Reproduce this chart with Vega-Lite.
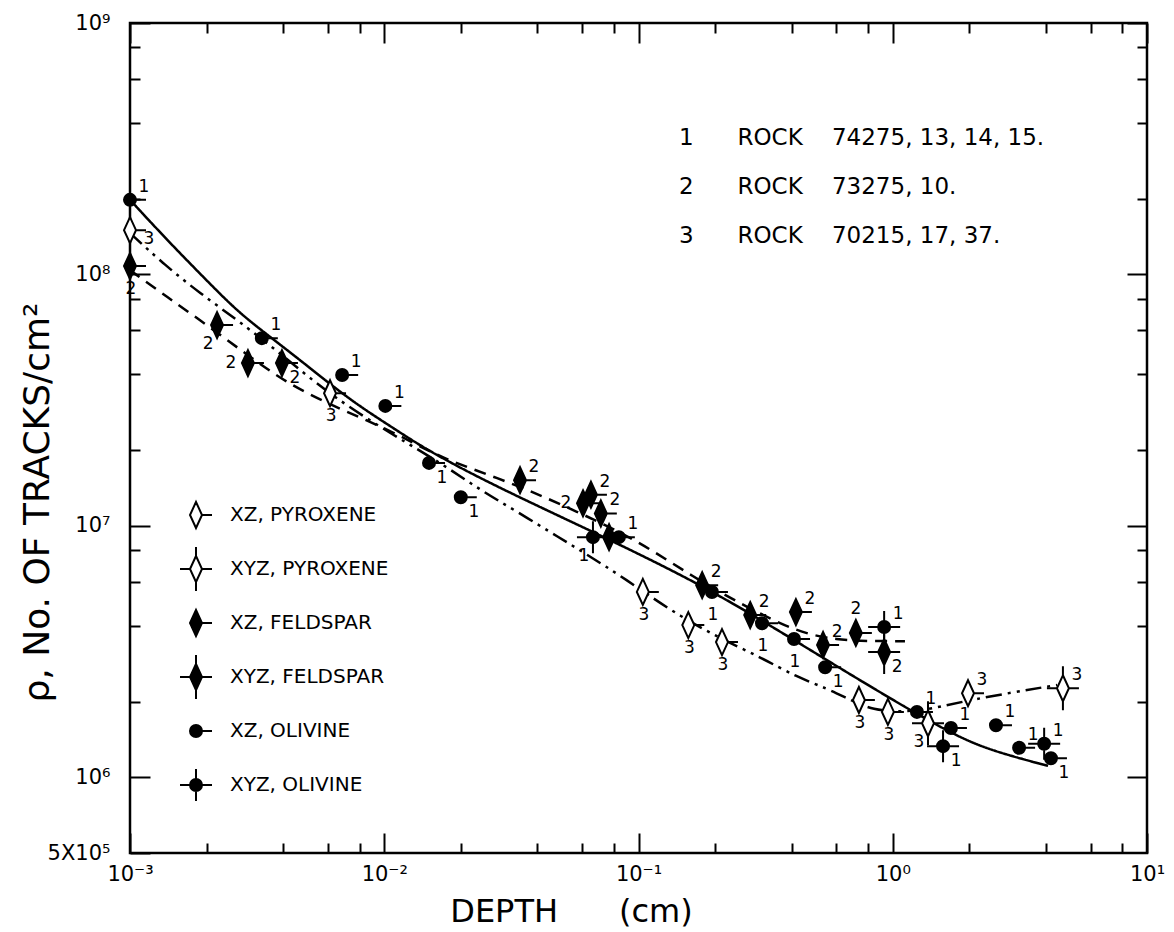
{
  "$schema": "https://vega.github.io/schema/vega-lite/v6.json",
  "width": 1017,
  "height": 830,
  "autosize": {"type": "none"},
  "padding": {"left": 130, "top": 23, "right": 27, "bottom": 79},
  "background": "white",
  "config": {
    "view": {"stroke": "black", "strokeWidth": 2.5},
    "font": "DejaVu Sans",
    "axis": {"grid": false, "domain": false, "tickColor": "black", "tickWidth": 2, "labelColor": "black", "titleColor": "black", "labelFont": "DejaVu Sans", "titleFont": "DejaVu Sans", "titleFontWeight": "normal", "labelFlush": false, "labelOverlap": false}
  },
  "datasets": {
    "curves": [
      {"rock": "1", "depth": 0.001, "density": 198000000},
      {"rock": "1", "depth": 0.0014, "density": 137000000},
      {"rock": "1", "depth": 0.00188, "density": 101000000},
      {"rock": "1", "depth": 0.00254, "density": 74200000},
      {"rock": "1", "depth": 0.00316, "density": 61800000},
      {"rock": "1", "depth": 0.00467, "density": 45700000},
      {"rock": "1", "depth": 0.00733, "density": 31600000},
      {"rock": "1", "depth": 0.0112, "density": 24000000},
      {"rock": "1", "depth": 0.0151, "density": 19700000},
      {"rock": "1", "depth": 0.0277, "density": 14300000},
      {"rock": "1", "depth": 0.0605, "density": 9890000},
      {"rock": "1", "depth": 0.164, "density": 6090000},
      {"rock": "1", "depth": 0.338, "density": 3960000},
      {"rock": "1", "depth": 0.637, "density": 2670000},
      {"rock": "1", "depth": 1.138, "density": 1880000},
      {"rock": "1", "depth": 1.757, "density": 1470000},
      {"rock": "1", "depth": 2.415, "density": 1280000},
      {"rock": "1", "depth": 4.08, "density": 1110000},
      {"rock": "2", "depth": 0.001, "density": 104000000},
      {"rock": "2", "depth": 0.0014, "density": 81300000},
      {"rock": "2", "depth": 0.00206, "density": 61800000},
      {"rock": "2", "depth": 0.00297, "density": 46900000},
      {"rock": "2", "depth": 0.00414, "density": 37000000},
      {"rock": "2", "depth": 0.00612, "density": 30300000},
      {"rock": "2", "depth": 0.0112, "density": 23400000},
      {"rock": "2", "depth": 0.01656, "density": 18600000},
      {"rock": "2", "depth": 0.0321, "density": 14800000},
      {"rock": "2", "depth": 0.0573, "density": 11400000},
      {"rock": "2", "depth": 0.0986, "density": 8790000},
      {"rock": "2", "depth": 0.164, "density": 6250000},
      {"rock": "2", "depth": 0.267, "density": 4750000},
      {"rock": "2", "depth": 0.42, "density": 3780000},
      {"rock": "2", "depth": 0.604, "density": 3510000},
      {"rock": "2", "depth": 0.836, "density": 3480000},
      {"rock": "2", "depth": 1.117, "density": 3480000},
      {"rock": "3", "depth": 0.001, "density": 146000000},
      {"rock": "3", "depth": 0.00137, "density": 109000000},
      {"rock": "3", "depth": 0.00188, "density": 84300000},
      {"rock": "3", "depth": 0.00271, "density": 64700000},
      {"rock": "3", "depth": 0.00407, "density": 46900000},
      {"rock": "3", "depth": 0.00612, "density": 33100000},
      {"rock": "3", "depth": 0.0112, "density": 22500000},
      {"rock": "3", "depth": 0.01656, "density": 17900000},
      {"rock": "3", "depth": 0.0238, "density": 13900000},
      {"rock": "3", "depth": 0.0333, "density": 11400000},
      {"rock": "3", "depth": 0.0491, "density": 8940000},
      {"rock": "3", "depth": 0.0605, "density": 7870000},
      {"rock": "3", "depth": 0.0902, "density": 6090000},
      {"rock": "3", "depth": 0.133, "density": 4620000},
      {"rock": "3", "depth": 0.204, "density": 3610000},
      {"rock": "3", "depth": 0.301, "density": 3010000},
      {"rock": "3", "depth": 0.42, "density": 2500000},
      {"rock": "3", "depth": 0.551, "density": 2260000},
      {"rock": "3", "depth": 0.679, "density": 2030000},
      {"rock": "3", "depth": 0.836, "density": 1850000},
      {"rock": "3", "depth": 1.097, "density": 1820000},
      {"rock": "3", "depth": 1.426, "density": 1870000},
      {"rock": "3", "depth": 1.977, "density": 2030000},
      {"rock": "3", "depth": 4.43, "density": 2330000}
    ],
    "pts": [
      {"depth": 0.001, "density": 198000000, "rock": "1", "series": "XZ, OLIVINE", "label_at": "ne"},
      {"depth": 0.0033, "density": 55800000, "rock": "1", "series": "XZ, OLIVINE", "label_at": "ne"},
      {"depth": 0.00683, "density": 39800000, "rock": "1", "series": "XZ, OLIVINE", "label_at": "ne"},
      {"depth": 0.0101, "density": 30000000, "rock": "1", "series": "XZ, OLIVINE", "label_at": "ne"},
      {"depth": 0.015, "density": 17800000, "rock": "1", "series": "XZ, OLIVINE", "label_at": "se"},
      {"depth": 0.02, "density": 13000000, "rock": "1", "series": "XZ, OLIVINE", "label_at": "se"},
      {"depth": 0.0662, "density": 9020000, "rock": "1", "series": "XYZ, OLIVINE", "label_at": "sw"},
      {"depth": 0.0837, "density": 9020000, "rock": "1", "series": "XZ, OLIVINE", "label_at": "ne"},
      {"depth": 0.1945, "density": 5460000, "rock": "1", "series": "XZ, OLIVINE", "label_at": "s"},
      {"depth": 0.306, "density": 4100000, "rock": "1", "series": "XZ, OLIVINE", "label_at": "s"},
      {"depth": 0.409, "density": 3550000, "rock": "1", "series": "XZ, OLIVINE", "label_at": "s"},
      {"depth": 0.542, "density": 2740000, "rock": "1", "series": "XZ, OLIVINE", "label_at": "se"},
      {"depth": 0.925, "density": 3960000, "rock": "1", "series": "XYZ, OLIVINE", "label_at": "ne"},
      {"depth": 1.245, "density": 1820000, "rock": "1", "series": "XZ, OLIVINE", "label_at": "ne"},
      {"depth": 1.577, "density": 1330000, "rock": "1", "series": "XYZ, OLIVINE", "label_at": "se"},
      {"depth": 1.694, "density": 1570000, "rock": "1", "series": "XZ, OLIVINE", "label_at": "ne"},
      {"depth": 2.547, "density": 1610000, "rock": "1", "series": "XZ, OLIVINE", "label_at": "ne"},
      {"depth": 3.14, "density": 1310000, "rock": "1", "series": "XZ, OLIVINE", "label_at": "ne"},
      {"depth": 3.94, "density": 1360000, "rock": "1", "series": "XYZ, OLIVINE", "label_at": "ne"},
      {"depth": 4.19, "density": 1190000, "rock": "1", "series": "XZ, OLIVINE", "label_at": "se"},
      {"depth": 0.001, "density": 108000000, "rock": "2", "series": "XZ, FELDSPAR", "label_at": "s"},
      {"depth": 0.0022, "density": 62900000, "rock": "2", "series": "XZ, FELDSPAR", "label_at": "sw"},
      {"depth": 0.00291, "density": 44400000, "rock": "2", "series": "XZ, FELDSPAR", "label_at": "w"},
      {"depth": 0.00396, "density": 44400000, "rock": "2", "series": "XZ, FELDSPAR", "label_at": "se"},
      {"depth": 0.0342, "density": 15200000, "rock": "2", "series": "XZ, FELDSPAR", "label_at": "ne"},
      {"depth": 0.0605, "density": 12300000, "rock": "2", "series": "XZ, FELDSPAR", "label_at": "w"},
      {"depth": 0.065, "density": 13300000, "rock": "2", "series": "XZ, FELDSPAR", "label_at": "ne"},
      {"depth": 0.0711, "density": 11200000, "rock": "2", "series": "XZ, FELDSPAR", "label_at": "ne"},
      {"depth": 0.0766, "density": 9020000, "rock": "2", "series": "XZ, FELDSPAR", "label_at": "none"},
      {"depth": 0.178, "density": 5810000, "rock": "2", "series": "XZ, FELDSPAR", "label_at": "ne"},
      {"depth": 0.275, "density": 4420000, "rock": "2", "series": "XZ, FELDSPAR", "label_at": "ne"},
      {"depth": 0.416, "density": 4540000, "rock": "2", "series": "XZ, FELDSPAR", "label_at": "ne"},
      {"depth": 0.532, "density": 3360000, "rock": "2", "series": "XZ, FELDSPAR", "label_at": "ne"},
      {"depth": 0.716, "density": 3750000, "rock": "2", "series": "XZ, FELDSPAR", "label_at": "n"},
      {"depth": 0.925, "density": 3150000, "rock": "2", "series": "XYZ, FELDSPAR", "label_at": "se"},
      {"depth": 0.001, "density": 150000000, "rock": "3", "series": "XZ, PYROXENE", "label_at": "e"},
      {"depth": 0.00612, "density": 33700000, "rock": "3", "series": "XZ, PYROXENE", "label_at": "s"},
      {"depth": 0.104, "density": 5460000, "rock": "3", "series": "XZ, PYROXENE", "label_at": "s"},
      {"depth": 0.157, "density": 4030000, "rock": "3", "series": "XZ, PYROXENE", "label_at": "s"},
      {"depth": 0.213, "density": 3450000, "rock": "3", "series": "XZ, PYROXENE", "label_at": "s"},
      {"depth": 0.736, "density": 2030000, "rock": "3", "series": "XZ, PYROXENE", "label_at": "s"},
      {"depth": 0.957, "density": 1820000, "rock": "3", "series": "XZ, PYROXENE", "label_at": "s"},
      {"depth": 1.376, "density": 1640000, "rock": "3", "series": "XYZ, PYROXENE", "label_at": "sw"},
      {"depth": 1.977, "density": 2160000, "rock": "3", "series": "XZ, PYROXENE", "label_at": "ne"},
      {"depth": 4.67, "density": 2260000, "rock": "3", "series": "XYZ, PYROXENE", "label_at": "ne"}
    ]
  },
  "resolve": {"axis": {"x": "independent", "y": "independent"}},
  "layer": [
    {
      "data": {"name": "curves"},
      "mark": {"type": "line", "interpolate": "basis", "color": "black", "strokeWidth": 2.5},
      "encoding": {
        "x": {"field": "depth", "type": "quantitative", "scale": {"type": "log", "domain": [0.001, 10], "nice": false},
          "axis": {"orient": "bottom", "values": [0.001, 0.01, 0.1, 1, 10], "tickSize": -20, "labelFontSize": 21, "labelPadding": 30, "labelBaseline": "top",
            "labelExpr": "'10' + (datum.value < 1 ? '⁻' : '') + ['⁰','¹','²','³','⁴','⁵','⁶','⁷','⁸','⁹'][round(abs(log(datum.value) / LN10))]",
            "title": "DEPTH\u00a0\u00a0\u00a0\u00a0\u00a0\u00a0(cm)", "titleFontSize": 32, "titleX": 441, "titleY": 58, "titleAlign": "center", "titleBaseline": "middle"}},
        "y": {"field": "density", "type": "quantitative", "scale": {"type": "log", "domain": [500000, 1000000000], "nice": false},
          "axis": {"orient": "left", "values": [500000, 1000000, 10000000, 100000000, 1000000000], "tickSize": -20, "labelFontSize": 21, "labelPadding": 40, "labelBaseline": "middle",
            "labelExpr": "datum.value < 900000 ? '5X10⁵' : '10' + ['⁰','¹','²','³','⁴','⁵','⁶','⁷','⁸','⁹'][round(log(datum.value) / LN10)]",
            "title": "ρ, No. OF TRACKS/cm²", "titleFontSize": 36, "titleX": -93, "titleY": 479, "titleAngle": -90, "titleAlign": "center", "titleBaseline": "middle"}},
        "strokeDash": {"field": "rock", "type": "nominal",
          "scale": {"domain": ["1", "2", "3"], "range": [[1, 0], [12, 8], [16, 6, 3, 6, 3, 6]]},
          "legend": {"orient": "none", "legendX": 526, "legendY": 103, "title": null, "padding": 0, "symbolOpacity": 0, "symbolSize": 0, "symbolStrokeWidth": 0, "labelOffset": 0, "labelFontSize": 23, "labelFont": "DejaVu Sans", "labelColor": "black", "rowPadding": 25, "labelLimit": 700,
            "labelExpr": "datum.label == '1' ? '1\u00a0\u00a0\u00a0\u00a0\u00a0\u00a0ROCK\u00a0\u00a0\u00a0\u00a074275, 13, 14, 15.' : datum.label == '2' ? '2\u00a0\u00a0\u00a0\u00a0\u00a0\u00a0ROCK\u00a0\u00a0\u00a0\u00a073275, 10.' : '3\u00a0\u00a0\u00a0\u00a0\u00a0\u00a0ROCK\u00a0\u00a0\u00a0\u00a070215, 17, 37.'"}}
      }
    },
    {
      "data": {"name": "pts"},
      "mark": {"type": "point", "filled": true, "stroke": "black", "strokeWidth": 2, "size": 1600, "opacity": 1},
      "encoding": {
        "x": {"field": "depth", "type": "quantitative", "axis": {"orient": "bottom", "values": [0.002, 0.004, 0.006, 0.008, 0.02, 0.04, 0.06, 0.08, 0.2, 0.4, 0.6, 0.8, 2, 4, 6, 8], "tickSize": -10, "labels": false, "title": null}},
        "y": {"field": "density", "type": "quantitative", "axis": {"orient": "left", "values": [2000000, 4000000, 6000000, 8000000, 20000000, 40000000, 60000000, 80000000, 200000000, 400000000, 600000000, 800000000], "tickSize": -10, "labels": false, "title": null}},
        "shape": {"field": "series", "type": "nominal",
          "scale": {"domain": ["XZ, PYROXENE", "XYZ, PYROXENE", "XZ, FELDSPAR", "XYZ, FELDSPAR", "XZ, OLIVINE", "XYZ, OLIVINE"],
            "range": [
              "M0,-0.65L0.3,0L0,0.65L-0.3,0ZM0.3,0H0.8",
              "M0,-0.65L0.3,0L0,0.65L-0.3,0ZM0.3,0H0.8M-0.3,0H-0.8M0,-0.65V-1.1M0,0.65V1.1",
              "M0,-0.65L0.3,0L0,0.65L-0.3,0ZM0.3,0H0.8",
              "M0,-0.65L0.3,0L0,0.65L-0.3,0ZM0.3,0H0.8M-0.3,0H-0.8M0,-0.65V-1.1M0,0.65V1.1",
              "M-0.3,0A0.3,0.3 0 1,1 0.3,0A0.3,0.3 0 1,1 -0.3,0ZM0.3,0H0.8",
              "M-0.3,0A0.3,0.3 0 1,1 0.3,0A0.3,0.3 0 1,1 -0.3,0ZM0.3,0H0.8M-0.3,0H-0.8M0,-0.3V-0.8M0,0.3V0.8"
            ]},
          "legend": {"orient": "none", "legendX": 45, "legendY": 470, "title": null, "padding": 0, "symbolSize": 1600, "symbolStrokeWidth": 2, "symbolStrokeColor": "black", "symbolOpacity": 1, "labelFontSize": 20, "labelFont": "DejaVu Sans", "labelColor": "black", "labelOffset": 13, "rowPadding": 10, "clipHeight": 44, "labelLimit": 400,
            "encode": {"symbols": {"update": {"stroke": {"value": "black"}, "strokeWidth": {"value": 2}, "opacity": {"value": 1}}}}}},
        "fill": {"field": "series", "type": "nominal",
          "scale": {"domain": ["XZ, PYROXENE", "XYZ, PYROXENE", "XZ, FELDSPAR", "XYZ, FELDSPAR", "XZ, OLIVINE", "XYZ, OLIVINE"], "range": ["white", "white", "black", "black", "black", "black"]},
          "legend": {"orient": "none", "legendX": 45, "legendY": 470, "title": null, "padding": 0, "symbolSize": 1600, "symbolStrokeWidth": 2, "symbolStrokeColor": "black", "symbolOpacity": 1, "labelFontSize": 20, "labelFont": "DejaVu Sans", "labelColor": "black", "labelOffset": 13, "rowPadding": 10, "clipHeight": 44, "labelLimit": 400,
            "encode": {"symbols": {"update": {"stroke": {"value": "black"}, "strokeWidth": {"value": 2}, "opacity": {"value": 1}}}}}}
      }
    },
    {
      "data": {"name": "pts"},
      "transform": [{"filter": "datum.label_at == 'ne'"}],
      "mark": {"type": "text", "fontSize": 17, "font": "DejaVu Sans", "color": "black", "dx": 14, "dy": -13, "align": "center", "baseline": "middle"},
      "encoding": {
        "x": {"field": "depth", "type": "quantitative", "axis": {"orient": "top", "values": [0.001, 0.01, 0.1, 1, 10], "tickSize": -20, "labels": false, "title": null}},
        "y": {"field": "density", "type": "quantitative", "axis": {"orient": "right", "values": [1000000, 10000000, 100000000, 1000000000], "tickSize": -20, "labels": false, "title": null}},
        "text": {"field": "rock"}
      }
    },
    {
      "data": {"name": "pts"},
      "transform": [{"filter": "datum.label_at == 'se'"}],
      "mark": {"type": "text", "fontSize": 17, "font": "DejaVu Sans", "color": "black", "dx": 13, "dy": 15, "align": "center", "baseline": "middle"},
      "encoding": {
        "x": {"field": "depth", "type": "quantitative", "axis": {"orient": "top", "values": [0.002, 0.004, 0.006, 0.008, 0.02, 0.04, 0.06, 0.08, 0.2, 0.4, 0.6, 0.8, 2, 4, 6, 8], "tickSize": -10, "labels": false, "title": null}},
        "y": {"field": "density", "type": "quantitative", "axis": {"orient": "right", "values": [2000000, 4000000, 6000000, 8000000, 20000000, 40000000, 60000000, 80000000, 200000000, 400000000, 600000000, 800000000], "tickSize": -10, "labels": false, "title": null}},
        "text": {"field": "rock"}
      }
    },
    {
      "data": {"name": "pts"},
      "transform": [{"filter": "datum.label_at == 's'"}],
      "mark": {"type": "text", "fontSize": 17, "font": "DejaVu Sans", "color": "black", "dx": 1, "dy": 23, "align": "center", "baseline": "middle"},
      "encoding": {
        "x": {"field": "depth", "type": "quantitative", "axis": null},
        "y": {"field": "density", "type": "quantitative", "axis": null},
        "text": {"field": "rock"}
      }
    },
    {
      "data": {"name": "pts"},
      "transform": [{"filter": "datum.label_at == 'sw'"}],
      "mark": {"type": "text", "fontSize": 17, "font": "DejaVu Sans", "color": "black", "dx": -9, "dy": 19, "align": "center", "baseline": "middle"},
      "encoding": {
        "x": {"field": "depth", "type": "quantitative", "axis": null},
        "y": {"field": "density", "type": "quantitative", "axis": null},
        "text": {"field": "rock"}
      }
    },
    {
      "data": {"name": "pts"},
      "transform": [{"filter": "datum.label_at == 'w'"}],
      "mark": {"type": "text", "fontSize": 17, "font": "DejaVu Sans", "color": "black", "dx": -17, "dy": 0, "align": "center", "baseline": "middle"},
      "encoding": {
        "x": {"field": "depth", "type": "quantitative", "axis": null},
        "y": {"field": "density", "type": "quantitative", "axis": null},
        "text": {"field": "rock"}
      }
    },
    {
      "data": {"name": "pts"},
      "transform": [{"filter": "datum.label_at == 'n'"}],
      "mark": {"type": "text", "fontSize": 17, "font": "DejaVu Sans", "color": "black", "dx": 0, "dy": -24, "align": "center", "baseline": "middle"},
      "encoding": {
        "x": {"field": "depth", "type": "quantitative", "axis": null},
        "y": {"field": "density", "type": "quantitative", "axis": null},
        "text": {"field": "rock"}
      }
    },
    {
      "data": {"name": "pts"},
      "transform": [{"filter": "datum.label_at == 'e'"}],
      "mark": {"type": "text", "fontSize": 17, "font": "DejaVu Sans", "color": "black", "dx": 19, "dy": 9, "align": "center", "baseline": "middle"},
      "encoding": {
        "x": {"field": "depth", "type": "quantitative", "axis": null},
        "y": {"field": "density", "type": "quantitative", "axis": null},
        "text": {"field": "rock"}
      }
    }
  ]
}
